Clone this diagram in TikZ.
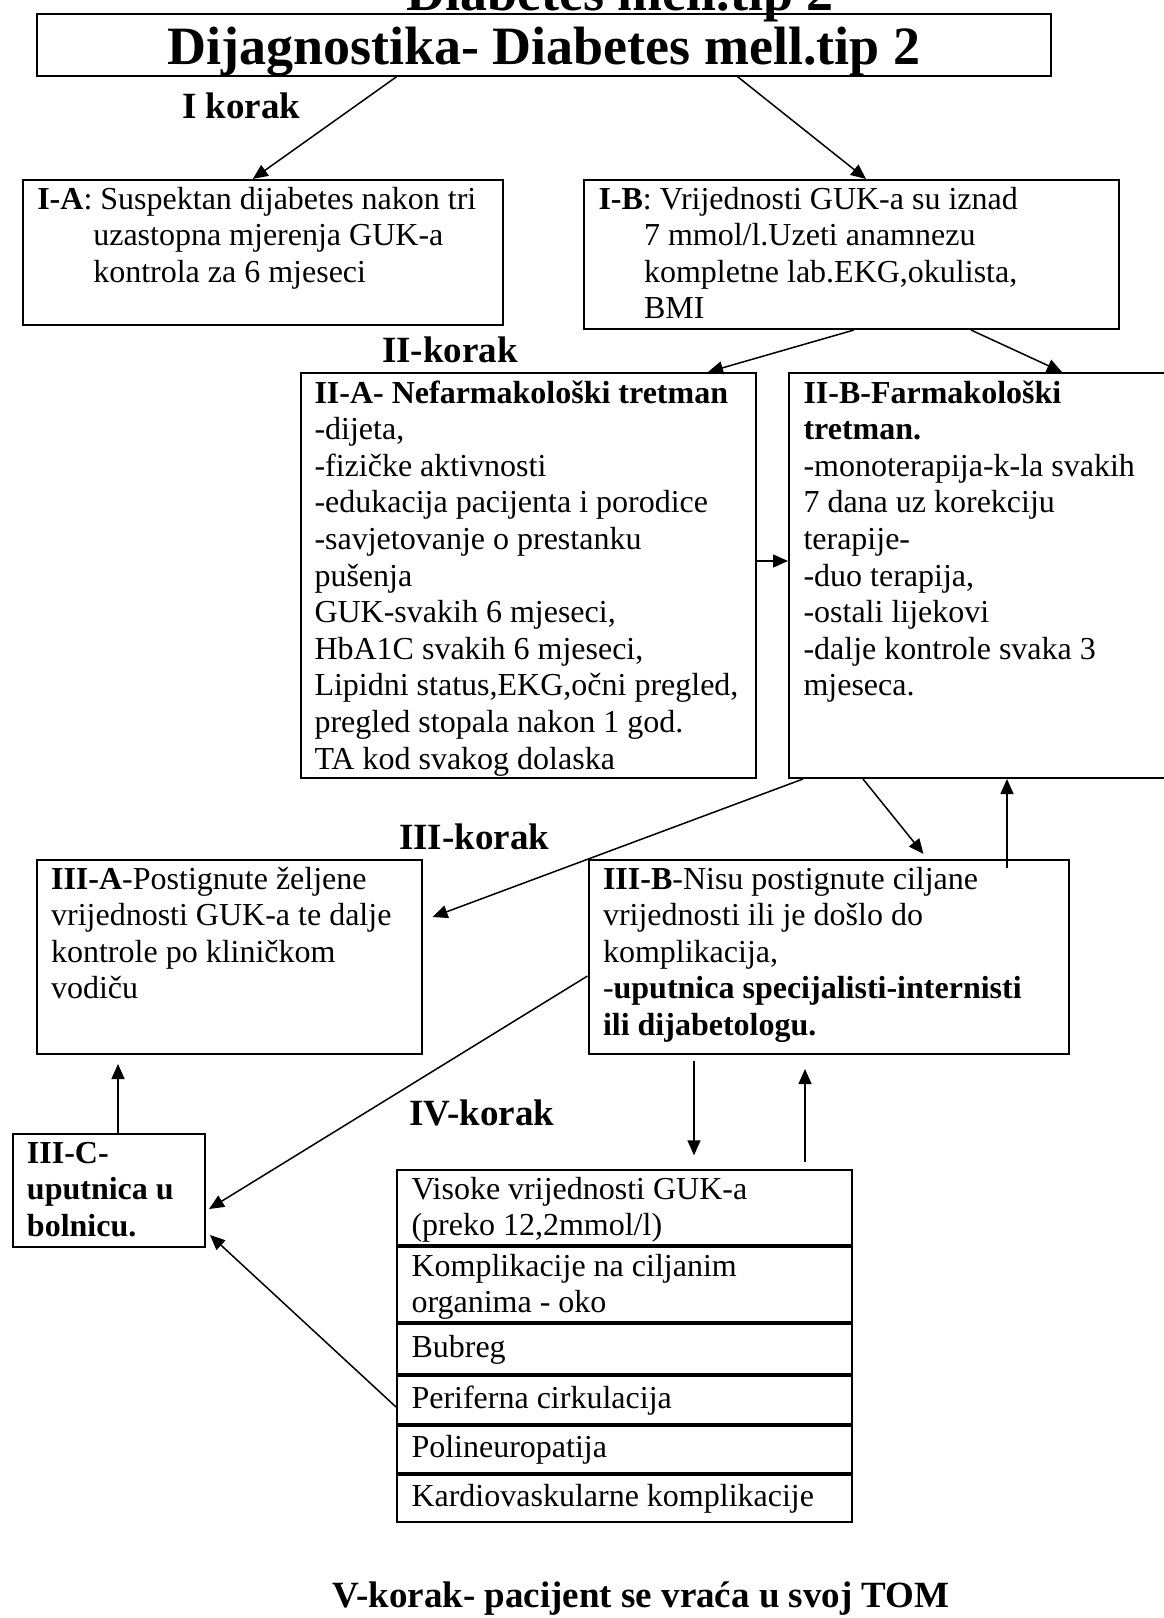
\documentclass[tikz,border=0pt]{standalone}
\usepackage{fontspec}
\setmainfont{Liberation Serif}
\usetikzlibrary{positioning,arrows.meta}

\newcommand{\bodysize}{\fontsize{32}{36.6}\selectfont}
\newcommand{\koraksize}{\fontsize{37}{42}\selectfont\bfseries}

\tikzset{
  stepbox/.style={draw, line width=2pt, anchor=north west, align=flush left, inner xsep=14.5pt, inner ysep=0pt, font=\bodysize},
  listcell/.style={draw, line width=2pt, align=flush left, inner xsep=14.5pt, inner ysep=0pt, text width=426pt, font=\bodysize},
  korak/.style={anchor=base west, inner sep=0pt, font=\koraksize},
  flow/.style={line width=1.5pt, -{Triangle[length=15pt,width=13pt]}},
}

\begin{document}
\begin{tikzpicture}[x=1pt, y=-1pt]
    \path[use as bounding box, fill=white] (0,0) rectangle (1163,1618);

    % titles
    \node[anchor=base, inner sep=0pt, font=\fontsize{54}{60}\selectfont\bfseries] (oldtitle) at (620,10) {Diabetes mell.tip 2};
    \node[stepbox, align=flush center, text width=985.4pt, text height=49.7pt, text depth=11.7pt, font=\fontsize{54}{60}\selectfont\bfseries] (title) at (35.6,13.3) {Dijagnostika- Diabetes mell.tip 2};

    % I korak
    \node[korak] (korak1) at (182,118) {I korak};
    \node[stepbox, text width=451.2pt, text height=29pt, text depth=116pt] (IA) at (21.8,179)
        {\textbf{I-A}: Suspektan dijabetes nakon tri\\\hspace*{56pt}uzastopna mjerenja GUK-a\\\hspace*{56pt}kontrola za 6 mjeseci};
    \node[stepbox, text width=506pt, text height=29pt, text depth=120pt] (IB) at (583,179)
        {\textbf{I-B}: Vrijednosti GUK-a su iznad\\\hspace*{45.5pt}7 mmol/l.Uzeti anamnezu\\\hspace*{45.5pt}kompletne lab.EKG,okulista,\\\hspace*{45.5pt}BMI};

    % II korak
    \node[korak] (korak2) at (382,362) {II-korak};
    \node[stepbox, inner xsep=13.5pt, text width=428pt, text height=30pt, text depth=375pt] (IIA) at (300,372)
        {\textbf{II-A- Nefarmakološki tretman}\\-dijeta,\\-fizičke aktivnosti\\-edukacija pacijenta i porodice\\-savjetovanje o prestanku\\pušenja\\GUK-svakih 6 mjeseci,\\HbA1C svakih 6 mjeseci,\\Lipidni status,EKG,očni pregled,\\pregled stopala nakon 1 god.\\TA kod svakog dolaska};
    \node[stepbox, text width=349pt, text height=30pt, text depth=375pt] (IIB) at (788,372)
        {\textbf{II-B-Farmakološki}\\\textbf{tretman.}\\-monoterapija-k-la svakih\\7 dana uz korekciju\\terapije-\\-duo terapija,\\-ostali lijekovi\\-dalje kontrole svaka 3\\mjeseca.};

    % III korak
    \node[korak] (korak3) at (399,849) {III-korak};
    \node[stepbox, text width=356pt, text height=29pt, text depth=165pt] (IIIA) at (35.6,859)
        {\textbf{III-A}-Postignute željene\\vrijednosti GUK-a te dalje\\kontrole po kliničkom\\vodiču};
    \node[stepbox, text width=451.5pt, text height=29pt, text depth=165pt] (IIIB) at (587.5,859)
        {\textbf{III-B}-Nisu postignute ciljane\\vrijednosti ili je došlo do\\komplikacija,\\-\textbf{uputnica specijalisti-internisti}\\\textbf{ili dijabetologu.}};
    \node[stepbox, text width=163.5pt, text height=29pt, text depth=84pt, font=\bodysize\bfseries] (IIIC) at (11.5,1133)
        {III-C-\\uputnica u\\bolnicu.};

    % IV korak
    \node[korak] (korak4) at (409,1125) {IV-korak};
    \node[listcell, anchor=north west, text height=29pt, text depth=46pt] (r1) at (396,1169.3) {Visoke vrijednosti GUK-a\\(preko 12,2mmol/l)};
    \node[listcell, below=0pt of r1, text height=29pt, text depth=46pt] (r2) {Komplikacije na ciljanim\\organima - oko};
    \node[listcell, below=0pt of r2, text height=33pt, text depth=17pt] (r3) {Bubreg};
    \node[listcell, below=0pt of r3, text height=32pt, text depth=15.3pt] (r4) {Periferna cirkulacija};
    \node[listcell, below=0pt of r4, text height=32pt, text depth=15.3pt] (r5) {Polineuropatija};
    \node[listcell, below=0pt of r5, text height=32pt, text depth=15.3pt] (r6) {Kardiovaskularne komplikacije};

    % V korak
    \node[anchor=base, inner sep=0pt, font=\koraksize] (korak5) at (641,1607) {V-korak- pacijent se vraća u svoj TOM};

    % arrows
    \draw[flow] ([xshift=361pt]title.south west) -- ([xshift=231pt]IA.north west);
    \draw[flow] ([xshift=702pt]title.south west) -- ([xshift=283pt]IB.north west);
    \draw[flow] ([xshift=271pt]IB.south west) -- ([xshift=408pt]IIA.north west);
    \draw[flow] ([xshift=388pt]IB.south west) -- ([xshift=274pt]IIB.north west);
    \draw[flow] ([yshift=14.5pt]IIA.east) -- ([yshift=14.5pt]IIB.west);
    \draw[flow] ([xshift=15pt]IIB.south west) -- ([xshift=10pt,yshift=-58pt]IIIA.north east);
    \draw[flow] ([xshift=75pt]IIB.south west) -- ([xshift=336pt,yshift=5pt]IIIB.north west);
    \draw[flow] ([xshift=419.5pt,yshift=-9pt]IIIB.north west) -- ([xshift=219pt]IIB.south west);
    \draw[flow] ([yshift=-19pt]IIIB.west) -- ([xshift=3pt,yshift=-18.5pt]IIIC.east);
    \draw[flow] ([xshift=106.5pt]IIIC.north west) -- ([xshift=82.4pt,yshift=-9pt]IIIA.south west);
    \draw[flow] ([xshift=106.5pt,yshift=-6pt]IIIB.south west) -- ([xshift=298pt,yshift=14pt]r1.north west);
    \draw[flow] ([xshift=409pt,yshift=7pt]r1.north west) -- ([xshift=217.5pt,yshift=-14pt]IIIB.south west);
    \draw[flow] ([yshift=-7pt]r4.west) -- ([xshift=4pt,yshift=-44.5pt]IIIC.east);
\end{tikzpicture}
\end{document}
